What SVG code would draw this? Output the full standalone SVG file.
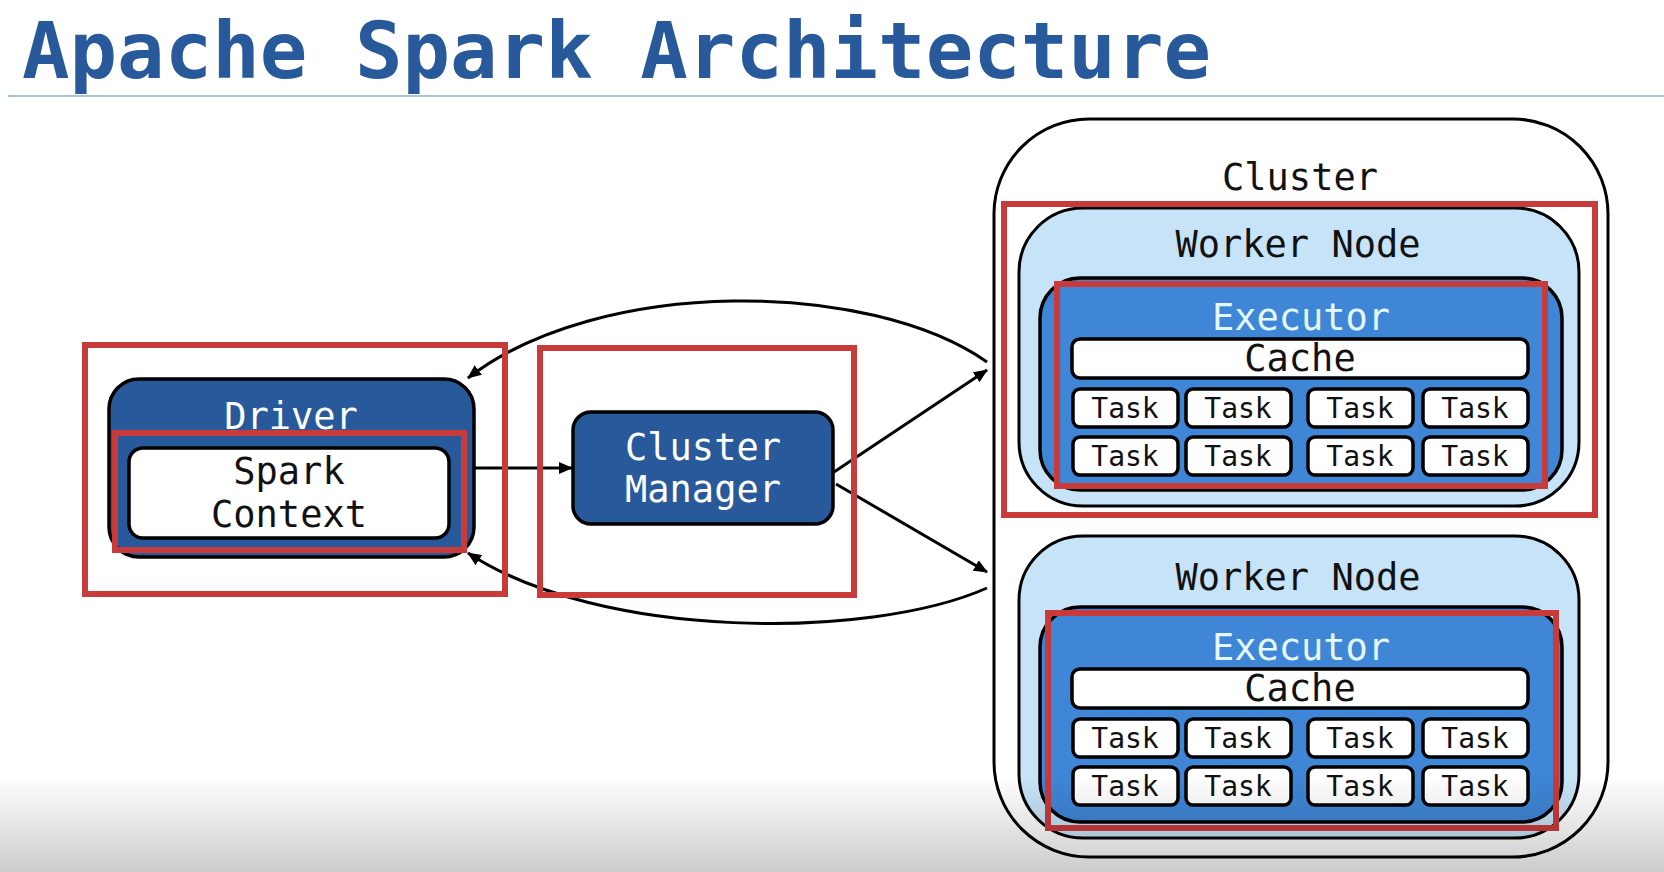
<svg xmlns="http://www.w3.org/2000/svg" width="1664" height="872" viewBox="0 0 1664 872">
<defs>
<marker id="arr" markerUnits="userSpaceOnUse" markerWidth="14" markerHeight="12" refX="13" refY="6" orient="auto">
<path d="M0,0 L14,6 L0,12 z" fill="#000"/>
</marker>
<linearGradient id="shade" x1="0" y1="0" x2="0" y2="1">
<stop offset="0" stop-color="#000" stop-opacity="0"/>
<stop offset="1" stop-color="#000" stop-opacity="0.2"/>
</linearGradient>
<style>
text{font-family:"DejaVu Sans Mono","Liberation Mono",monospace;text-anchor:middle;font-size:37px}
.title{font-size:79px;font-weight:bold;fill:#28599b;text-anchor:start}
.dark{fill:#28599b;stroke:#000;stroke-width:3.5}
.white{fill:#fff;stroke:#000;stroke-width:3.5}
.worker{fill:#c6e3f8;stroke:#000;stroke-width:3}
.exec{fill:#3f86d6;stroke:#000;stroke-width:3.5}
.red{fill:none;stroke:#c93a3a;stroke-width:6}
.wt{fill:#fff}
.et{fill:#e3f8ff}
.bt{fill:#111}
.task{font-size:28px;fill:#111}
.conn{fill:none;stroke:#000;stroke-width:3;marker-end:url(#arr)}
</style>
</defs>
<rect width="1664" height="872" fill="#fff"/>
<g id="title">
<text class="title" x="22" y="78">Apache Spark Architecture</text>
<line x1="8" y1="96" x2="1664" y2="96" stroke="#a9c4d8" stroke-width="2"/>
</g>
<g id="connectors">
<line class="conn" x1="474" y1="468" x2="572" y2="468"/>
<path class="conn" d="M987,362 C870,280 600,276 468,378"/>
<path class="conn" d="M987,588 C870,640 600,640 468,553"/>
<line class="conn" x1="834" y1="472" x2="987" y2="370"/>
<line class="conn" x1="836" y1="484" x2="987" y2="572"/>
</g>
<g id="driver">
<rect class="dark" x="109" y="379" width="365" height="178" rx="30"/>
<text class="wt" x="291" y="429">Driver</text>
<rect class="red" x="85" y="345" width="420" height="249"/>
</g>
<g id="spark-context">
<rect class="white" x="129" y="448" width="320" height="90" rx="14"/>
<text class="bt" x="289" y="484">Spark</text>
<text class="bt" x="289" y="527">Context</text>
<rect class="red" x="115" y="433" width="349" height="117"/>
</g>
<g id="cluster-manager">
<rect class="dark" x="573" y="412" width="260" height="112" rx="18"/>
<text class="wt" x="703" y="460">Cluster</text>
<text class="wt" x="703" y="502">Manager</text>
<rect class="red" x="540" y="348" width="314" height="247"/>
</g>
<g id="cluster">
<rect x="994" y="119" width="614" height="738" rx="95" fill="#fff" stroke="#000" stroke-width="3"/>
<text class="bt" x="1300" y="190">Cluster</text>
</g>
<g id="worker-1">
<rect class="worker" x="1019" y="208" width="560" height="298" rx="64"/>
<text class="bt" x="1298" y="257">Worker Node</text>
<rect class="red" x="1004" y="204" width="591" height="311"/>
</g>
<g id="executor-1">
<rect class="exec" x="1040" y="278" width="522" height="212" rx="40"/>
<text class="et" x="1301" y="330">Executor</text>
<rect class="white" x="1072" y="339" width="456" height="39" rx="8"/>
<text class="bt" x="1300" y="371">Cache</text>
<rect class="white" x="1073" y="389" width="105" height="38" rx="7"/>
<rect class="white" x="1186" y="389" width="105" height="38" rx="7"/>
<rect class="white" x="1308" y="389" width="105" height="38" rx="7"/>
<rect class="white" x="1423" y="389" width="105" height="38" rx="7"/>
<rect class="white" x="1073" y="437" width="105" height="38" rx="7"/>
<rect class="white" x="1186" y="437" width="105" height="38" rx="7"/>
<rect class="white" x="1308" y="437" width="105" height="38" rx="7"/>
<rect class="white" x="1423" y="437" width="105" height="38" rx="7"/>
<text class="task" x="1125" y="418">Task</text>
<text class="task" x="1238" y="418">Task</text>
<text class="task" x="1360" y="418">Task</text>
<text class="task" x="1475" y="418">Task</text>
<text class="task" x="1125" y="466">Task</text>
<text class="task" x="1238" y="466">Task</text>
<text class="task" x="1360" y="466">Task</text>
<text class="task" x="1475" y="466">Task</text>
<rect class="red" x="1057" y="284" width="488" height="202"/>
</g>
<g id="worker-2">
<rect class="worker" x="1019" y="536" width="560" height="302" rx="64"/>
<text class="bt" x="1298" y="590">Worker Node</text>
</g>
<g id="executor-2">
<rect class="exec" x="1040" y="607" width="522" height="215" rx="40"/>
<text class="et" x="1301" y="660">Executor</text>
<rect class="white" x="1072" y="669" width="456" height="39" rx="8"/>
<text class="bt" x="1300" y="701">Cache</text>
<rect class="white" x="1073" y="719" width="105" height="38" rx="7"/>
<rect class="white" x="1186" y="719" width="105" height="38" rx="7"/>
<rect class="white" x="1308" y="719" width="105" height="38" rx="7"/>
<rect class="white" x="1423" y="719" width="105" height="38" rx="7"/>
<rect class="white" x="1073" y="767" width="105" height="38" rx="7"/>
<rect class="white" x="1186" y="767" width="105" height="38" rx="7"/>
<rect class="white" x="1308" y="767" width="105" height="38" rx="7"/>
<rect class="white" x="1423" y="767" width="105" height="38" rx="7"/>
<text class="task" x="1125" y="748">Task</text>
<text class="task" x="1238" y="748">Task</text>
<text class="task" x="1360" y="748">Task</text>
<text class="task" x="1475" y="748">Task</text>
<text class="task" x="1125" y="796">Task</text>
<text class="task" x="1238" y="796">Task</text>
<text class="task" x="1360" y="796">Task</text>
<text class="task" x="1475" y="796">Task</text>
<rect class="red" x="1048" y="613" width="508" height="215"/>
</g>
<rect x="0" y="775" width="1664" height="97" fill="url(#shade)"/>
</svg>
